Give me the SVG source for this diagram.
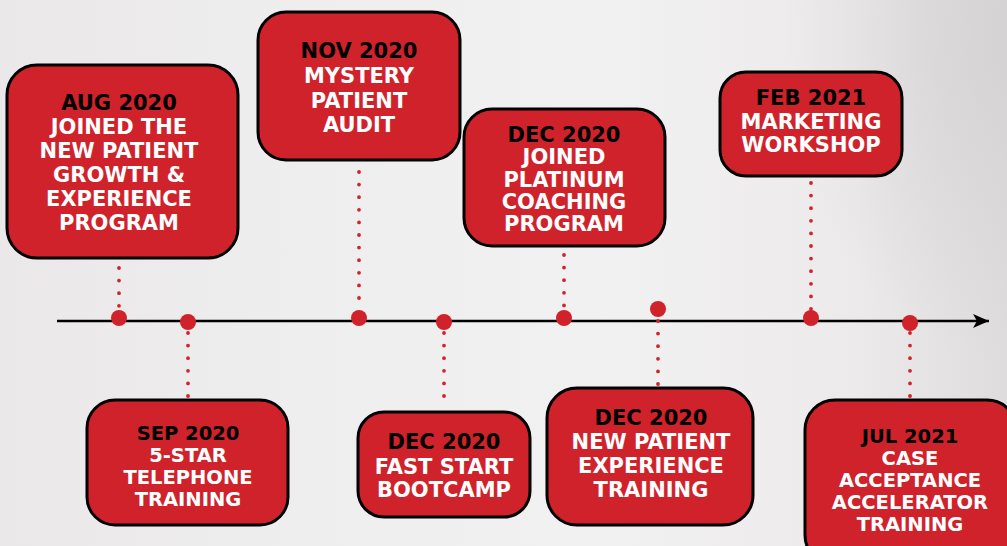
<svg xmlns="http://www.w3.org/2000/svg" width="1007" height="546" viewBox="0 0 1007 546">
  <defs>
    <linearGradient id="bg" x1="0" y1="0" x2="1" y2="0">
      <stop offset="0" stop-color="#eae8e8"/>
      <stop offset="0.3" stop-color="#efeeee"/>
      <stop offset="0.6" stop-color="#f2f1f1"/>
      <stop offset="0.85" stop-color="#eceaea"/>
      <stop offset="1" stop-color="#dedcdc"/>
    </linearGradient>
    <radialGradient id="shadeR" cx="1" cy="0.1" r="0.9">
      <stop offset="0" stop-color="#d2d0d0" stop-opacity="0.8"/>
      <stop offset="1" stop-color="#d2d0d0" stop-opacity="0"/>
    </radialGradient>
    <marker id="arrow" viewBox="0 0 16 14" refX="16" refY="7" markerWidth="16" markerHeight="14" markerUnits="userSpaceOnUse" orient="auto">
      <path d="M0,0 L16,7 L0,14 L4,7 Z" fill="#000"/>
    </marker>
    <style>
      .box { fill: #d0222b; stroke: #000; stroke-width: 3; }
      .date { font-family: "DejaVu Sans", "Liberation Sans", sans-serif; font-weight: bold; font-size: 21px; fill: #000; text-anchor: middle; }
      .desc { font-family: "DejaVu Sans", "Liberation Sans", sans-serif; font-weight: bold; font-size: 21px; fill: #fff; text-anchor: middle; }
      .sm { font-size: 19.5px; }
      .dots { stroke: #d0222b; stroke-width: 3.8; stroke-linecap: round; stroke-dasharray: 0 12.6; fill: none; }
      .pt { fill: #d0222b; }
    </style>
  </defs>

  <rect x="0" y="0" width="1007" height="546" fill="url(#bg)"/>
  <rect x="760" y="0" width="247" height="360" fill="url(#shadeR)"/>

  <g id="connectors">
    <line x1="57" y1="321" x2="989" y2="321" stroke="#000" stroke-width="2.6" marker-end="url(#arrow)"/>
    <line class="dots" x1="119" y1="268" x2="119" y2="310"/>
    <line class="dots" x1="188" y1="333" x2="188" y2="399"/>
    <line class="dots" x1="359" y1="172" x2="359" y2="310"/>
    <line class="dots" x1="444" y1="333" x2="444" y2="399"/>
    <line class="dots" x1="564" y1="255" x2="564" y2="310"/>
    <line class="dots" x1="658" y1="321" x2="658" y2="387"/>
    <line class="dots" x1="811" y1="183" x2="811" y2="310"/>
    <line class="dots" x1="910" y1="333" x2="910" y2="399"/>
    <circle class="pt" cx="119" cy="318" r="8"/>
    <circle class="pt" cx="188" cy="322" r="8"/>
    <circle class="pt" cx="359" cy="318" r="8"/>
    <circle class="pt" cx="444" cy="322" r="8"/>
    <circle class="pt" cx="564" cy="318" r="8"/>
    <circle class="pt" cx="658" cy="309" r="8"/>
    <circle class="pt" cx="811" cy="318" r="8"/>
    <circle class="pt" cx="910" cy="323" r="8"/>
  </g>

  <g id="aug2020">
    <rect class="box" x="7" y="65" width="231" height="193" rx="30"/>
    <text class="date" x="119" y="110">AUG 2020</text>
    <text class="desc" x="119" y="134">JOINED THE</text>
    <text class="desc" x="119" y="158">NEW PATIENT</text>
    <text class="desc" x="119" y="182">GROWTH &amp;</text>
    <text class="desc" x="119" y="206">EXPERIENCE</text>
    <text class="desc" x="119" y="230">PROGRAM</text>
  </g>

  <g id="nov2020">
    <rect class="box" x="258" y="12" width="202" height="148" rx="28"/>
    <text class="date" x="359" y="58">NOV 2020</text>
    <text class="desc" x="359" y="83">MYSTERY</text>
    <text class="desc" x="359" y="108">PATIENT</text>
    <text class="desc" x="359" y="132">AUDIT</text>
  </g>

  <g id="dec2020-platinum">
    <rect class="box" x="464" y="109" width="201" height="137" rx="28"/>
    <text class="date" x="564" y="142">DEC 2020</text>
    <text class="desc" x="564" y="164">JOINED</text>
    <text class="desc" x="564" y="187">PLATINUM</text>
    <text class="desc" x="564" y="209">COACHING</text>
    <text class="desc" x="564" y="231">PROGRAM</text>
  </g>

  <g id="feb2021">
    <rect class="box" x="720" y="72" width="182" height="104" rx="26"/>
    <text class="date" x="811" y="105">FEB 2021</text>
    <text class="desc" x="811" y="129">MARKETING</text>
    <text class="desc" x="811" y="152">WORKSHOP</text>
  </g>

  <g id="sep2020">
    <rect class="box" x="87" y="400" width="201" height="125" rx="28"/>
    <text class="date sm" x="188" y="440">SEP 2020</text>
    <text class="desc sm" x="188" y="462">5-STAR</text>
    <text class="desc sm" x="188" y="484">TELEPHONE</text>
    <text class="desc sm" x="188" y="506">TRAINING</text>
  </g>

  <g id="dec2020-faststart">
    <rect class="box" x="358" y="412" width="172" height="105" rx="26"/>
    <text class="date" x="444" y="449">DEC 2020</text>
    <text class="desc" x="444" y="474">FAST START</text>
    <text class="desc" x="444" y="497">BOOTCAMP</text>
  </g>

  <g id="dec2020-npe">
    <rect class="box" x="547" y="388" width="206" height="137" rx="30"/>
    <text class="date" x="651" y="425">DEC 2020</text>
    <text class="desc" x="651" y="449">NEW PATIENT</text>
    <text class="desc" x="651" y="473">EXPERIENCE</text>
    <text class="desc" x="651" y="497">TRAINING</text>
  </g>

  <g id="jul2021">
    <rect class="box" x="805" y="400" width="212" height="165" rx="30"/>
    <text class="date sm" x="910" y="443">JUL 2021</text>
    <text class="desc sm" x="910" y="465">CASE</text>
    <text class="desc sm" x="910" y="487">ACCEPTANCE</text>
    <text class="desc sm" x="910" y="509">ACCELERATOR</text>
    <text class="desc sm" x="910" y="531">TRAINING</text>
  </g>
</svg>
